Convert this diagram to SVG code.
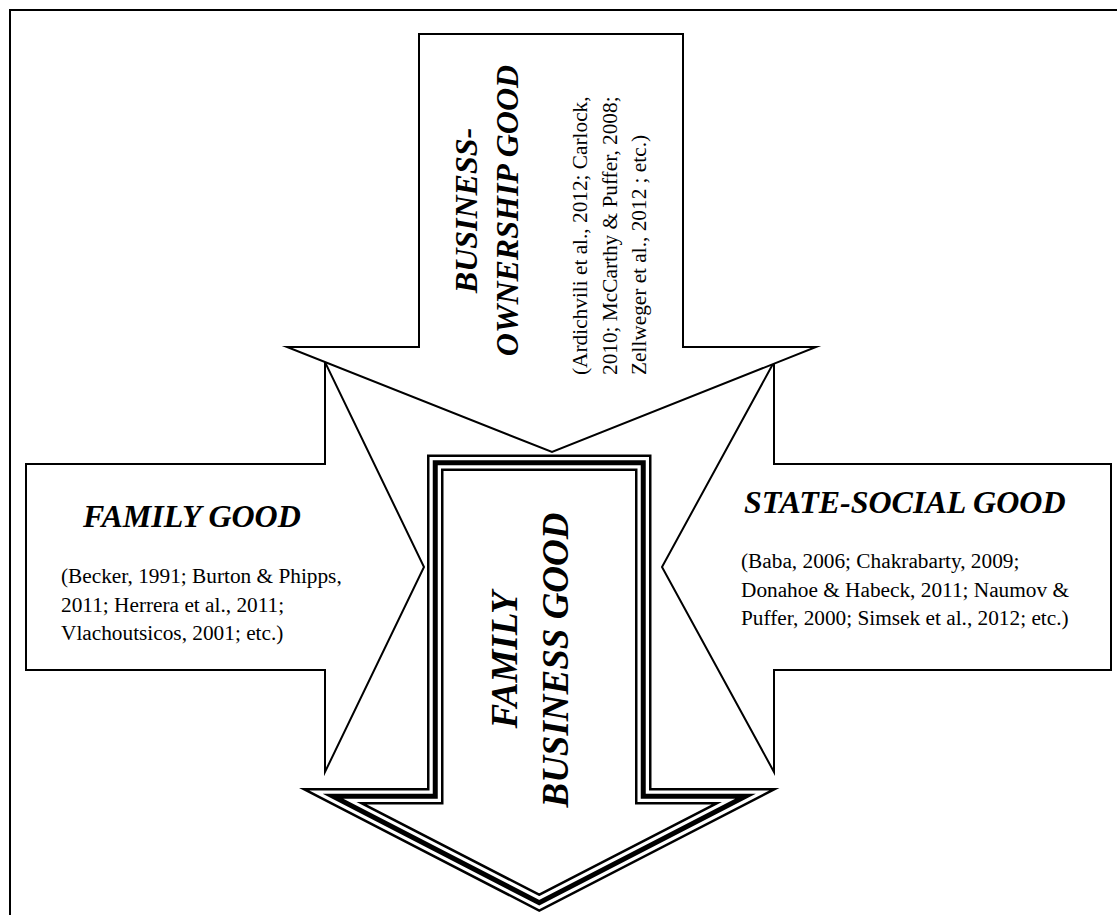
<svg xmlns="http://www.w3.org/2000/svg" width="1117" height="915" viewBox="0 0 1117 915">
  <style>
    .shape { fill: #ffffff; stroke: #000000; stroke-width: 2; stroke-linejoin: miter; stroke-miterlimit: 10; }
    .title { font-family: "Liberation Serif", "Times New Roman", serif; font-weight: bold; font-style: italic; fill: #000000; }
    .ref { font-family: "Liberation Serif", "Times New Roman", serif; font-size: 21.3px; fill: #000000; }
    .frame { fill: none; stroke: #000000; stroke-width: 2; }
    .cline { stroke-linejoin: miter; stroke-miterlimit: 10; }
  </style>
  <defs>
    <path id="centerPath" d="M435.25,462.75 H643.25 V796.25 H745.5 L539.25,902.7 L333,796.25 H435.25 Z"/>
  </defs>
  <rect x="0" y="0" width="1117" height="915" fill="#ffffff"/>
  <path class="frame" d="M10,915 V10 H1117"/>

  <g id="family-good">
    <polygon class="shape" points="26,464 325,464 325,362 424,567 325,772 325,670 26,670"/>
    <text class="title" x="83" y="527" font-size="32">FAMILY GOOD</text>
    <text class="ref" x="61" y="583">(Becker, 1991; Burton &amp; Phipps,</text>
    <text class="ref" x="61" y="612">2011; Herrera et al., 2011;</text>
    <text class="ref" x="61" y="640">Vlachoutsicos, 2001; etc.)</text>
  </g>

  <g id="state-social-good">
    <polygon class="shape" points="1111,464 774,464 774,362 662,567 774,772 774,670 1111,670"/>
    <text class="title" x="744" y="513" font-size="32">STATE-SOCIAL GOOD</text>
    <text class="ref" x="741" y="568">(Baba, 2006; Chakrabarty, 2009;</text>
    <text class="ref" x="741" y="597" textLength="328" lengthAdjust="spacing">Donahoe &amp; Habeck, 2011; Naumov &amp;</text>
    <text class="ref" x="741" y="625">Puffer, 2000; Simsek et al., 2012; etc.)</text>
  </g>

  <g id="business-ownership-good">
    <polygon class="shape" points="419,34 683,34 683,347 816,347 552,452 287,347 419,347"/>
    <text class="title" font-size="32" text-anchor="middle" transform="translate(477,210.5) rotate(-90)">BUSINESS-</text>
    <text class="title" font-size="32" text-anchor="middle" transform="translate(517.5,210.5) rotate(-90)">OWNERSHIP GOOD</text>
    <text class="ref" transform="translate(587,375) rotate(-90)">(Ardichvili et al., 2012; Carlock,</text>
    <text class="ref" transform="translate(616.5,375) rotate(-90)">2010; McCarthy &amp; Puffer, 2008;</text>
    <text class="ref" transform="translate(646,375) rotate(-90)">Zellweger et al., 2012 ; etc.)</text>
  </g>

  <g id="family-business-good">
    <use href="#centerPath" class="cline" fill="#ffffff" stroke="#000000" stroke-width="16.5"/>
    <use href="#centerPath" class="cline" fill="none" stroke="#ffffff" stroke-width="11.5"/>
    <use href="#centerPath" class="cline" fill="none" stroke="#000000" stroke-width="5"/>
    <text class="title" font-size="37" text-anchor="middle" transform="translate(517,660) rotate(-90)">FAMILY</text>
    <text class="title" font-size="37" text-anchor="middle" transform="translate(568,660) rotate(-90)">BUSINESS GOOD</text>
  </g>

  <g id="connectors"></g>
</svg>
